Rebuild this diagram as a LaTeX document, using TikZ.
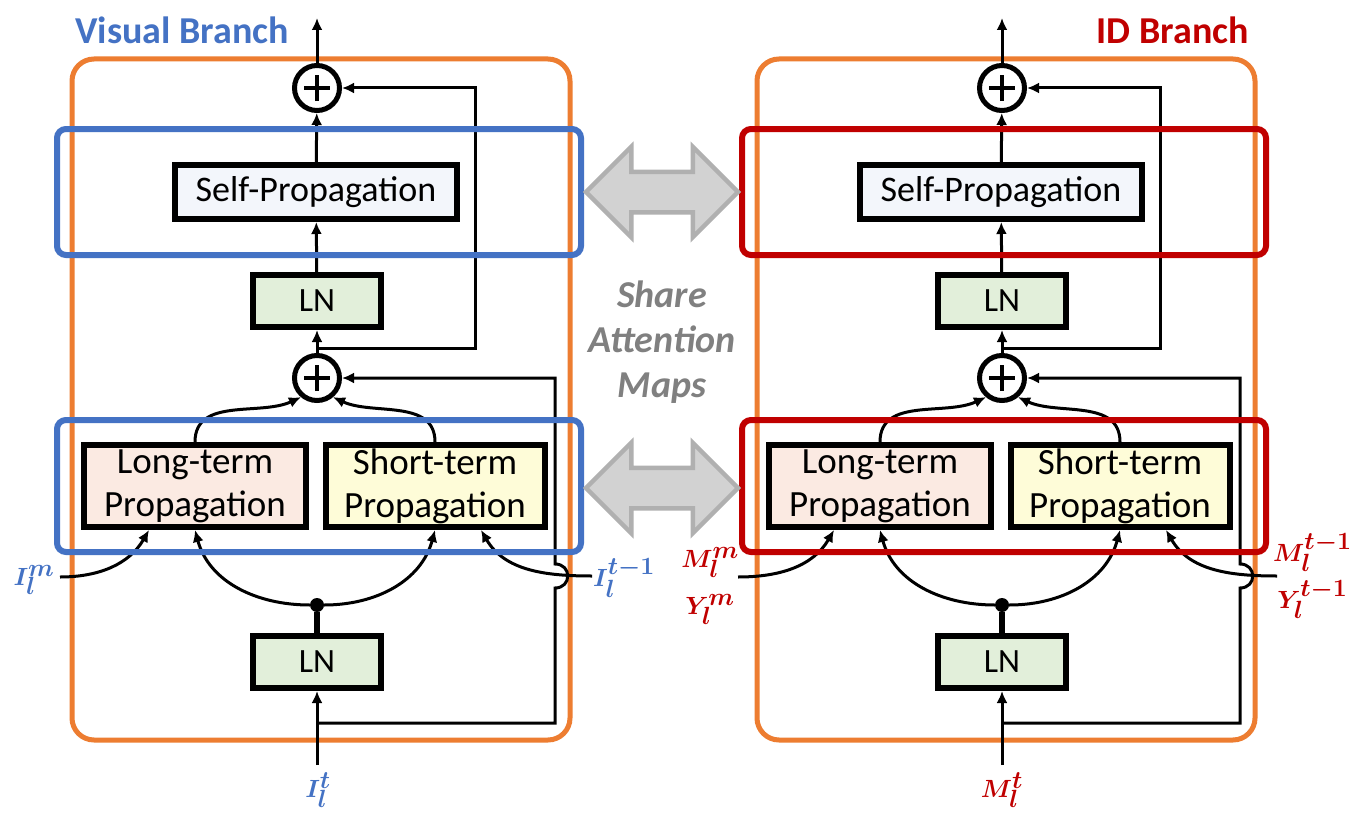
\documentclass[tikz,border=0pt]{standalone}
\usepackage{fontspec}
\setmainfont{Carlito}
\usepackage{bm}
\usetikzlibrary{arrows.meta,shapes.arrows,calc}

\definecolor{vblue}{HTML}{4472C4}
\definecolor{idred}{HTML}{C00000}
\definecolor{frameorange}{HTML}{ED7D31}
\definecolor{lnfill}{HTML}{E2EFDA}
\definecolor{longfill}{HTML}{FBEAE2}
\definecolor{shortfill}{HTML}{FEFCD8}
\definecolor{spfill}{HTML}{F3F6FB}
\definecolor{sharefill}{HTML}{D2D2D2}
\definecolor{shareedge}{HTML}{B0B0B0}
\definecolor{sharetext}{HTML}{808080}

\tikzset{
  blk/.style={draw=black, line width=6pt, inner sep=0pt, align=center,
    font=\fontsize{37}{43}\selectfont},
  conn/.style={line width=3pt, -{Latex[length=12pt,width=11pt]}},
  sumnode/.style={circle, draw, line width=5pt, minimum size=45pt, inner sep=0pt,
    fill=white, path picture={
      \draw[line width=3.5pt]
        ([xshift=-13pt]path picture bounding box.center) -- ([xshift=13pt]path picture bounding box.center)
        ([yshift=-13pt]path picture bounding box.center) -- ([yshift=13pt]path picture bounding box.center);}},
  joint/.style={circle, fill=black, minimum size=14pt, inner sep=0pt},
  outerframe/.style={draw=frameorange, line width=5pt, rounded corners=22pt},
  groupframe/.style={line width=6pt, rounded corners=9pt},
  share/.style={double arrow, draw=shareedge, fill=sharefill, line width=4.5pt,
    inner xsep=0pt, inner ysep=18pt, double arrow head extend=25pt,
    minimum height=152pt, double arrow tip angle=90},
  inlab/.style={font=\fontsize{35}{47}\selectfont, inner sep=0pt, align=center},
  branchtitle/.style={font=\fontsize{38}{42}\selectfont\bfseries, inner sep=0pt},
}

% one propagation block; #1 = name prefix, #2 = colour of the grouping frames,
% #3 = x where the memory input enters
\newcommand\branchunit[3]{%
  \draw[outerframe] (72,-59) rectangle (570,-740);
  \node[sumnode] (#1sumtop) at (317,-88) {};
  \node[sumnode] (#1summid) at (317,-378) {};
  \node[blk, fill=spfill, minimum width=282pt, minimum height=54pt, font=\fontsize{36}{40}\selectfont]
    (#1self) at (316,-192) {Self-Propagation};
  \node[blk, fill=lnfill, minimum width=128pt, minimum height=52pt, font=\fontsize{34}{40}\selectfont]
    (#1lnup) at (317,-301) {LN};
  \node[blk, fill=longfill, minimum width=222pt, minimum height=82pt] (#1long) at (195,-486) {Long-term\\Propagation};
  \node[blk, fill=shortfill, minimum width=219pt, minimum height=82pt] (#1short) at (435,-486) {Short-term\\Propagation};
  \node[blk, fill=lnfill, minimum width=128pt, minimum height=52pt, font=\fontsize{34}{40}\selectfont]
    (#1lnlow) at (317,-662) {LN};
  \node[joint] (#1fork) at (317,-605) {};
  \coordinate (#1out) at (317,-18);
  \coordinate (#1in) at (317,-765);
  \coordinate (#1tap) at (317,-348);
  \coordinate (#1tapin) at (317,-723);
  \coordinate (#1mem) at (#3,-577);
  \coordinate (#1prev) at (592,-576);
  % main stream
  \draw[conn] (#1in) -- (#1lnlow);
  \draw[line width=6pt] (#1lnlow) -- (#1fork);
  \draw[conn] (#1fork) to[out=180,in=-75] (#1long.south);
  \draw[conn] (#1fork) to[out=0,in=-105] (#1short.south);
  \draw[conn] (#1mem) to[out=0,in=-120] ($(#1long.south)+(-46,0)$);
  \draw[conn] (#1prev) to[out=180,in=-60] ($(#1short.south)+(46,0)$);
  \draw[conn] (#1long.north) to[out=90,in=-155] (#1summid.-130);
  \draw[conn] (#1short.north) to[out=90,in=-25] (#1summid.-50);
  \draw[conn] (#1summid) -- (#1lnup);
  \draw[conn] (#1lnup) -- (#1self);
  \draw[conn] (#1self) -- (#1sumtop);
  \draw[conn] (#1sumtop) -- (#1out);
  % residual paths
  \draw[conn] (#1tap) -- (475,-348) |- (#1sumtop.east);
  \draw[conn] (#1tapin) -- (555,-723) -- (555,-588)
    .. controls (572,-588) and (572,-564) .. (555,-564) |- (#1summid.east);
  % grouping frames
  \draw[groupframe, draw=#2] (57,-129) rectangle (581,-255);
  \draw[groupframe, draw=#2] (57,-420) rectangle (581,-552);
}

\begin{document}
\begin{tikzpicture}[x=1pt, y=1pt]
  \useasboundingbox (0,0) rectangle (1355,-816);
  \fill[white] (0,0) rectangle (1355,-816);

  \branchunit{v}{vblue}{60}
  \begin{scope}[xshift=685pt]
    \branchunit{d}{idred}{53}
  \end{scope}

  % shared attention maps
  \node[share] (sharetop) at (662,-192) {};
  \node[share] (sharebot) at (662,-488) {};
  \node[font=\fontsize{38}{45}\selectfont\bfseries\itshape, text=sharetext, align=center]
    (sharetxt) at (662,-342) {Share\\Attention\\Maps};

  % titles
  \node[branchtitle, text=vblue, anchor=west] (vtitle) at (75,-30) {Visual Branch};
  \node[branchtitle, text=idred, anchor=east] (dtitle) at (1249,-30) {ID Branch};

  % inputs of the visual branch
  \node[inlab, text=vblue] (vmemlab) at (34,-580) {$\bm{I_l^m}$};
  \node[inlab, text=vblue, anchor=west] (vprevlab) at (593,-578) {$\bm{I_l^{t-1}}$};
  \node[inlab, text=vblue] (vinlab) at (318,-790) {$\bm{I_l^t}$};

  % inputs of the ID branch
  \node[inlab, text=idred] (dmemlab) at (710,-586) {$\bm{M_l^m}$\\$\bm{Y_l^m}$};
  \node[inlab, text=idred, anchor=west] (dprevlab) at (1273,-576) {$\bm{M_l^{t-1}}$\\$\bm{Y_l^{t-1}}$};
  \node[inlab, text=idred] (dinlab) at (1002,-790) {$\bm{M_l^t}$};
\end{tikzpicture}
\end{document}
